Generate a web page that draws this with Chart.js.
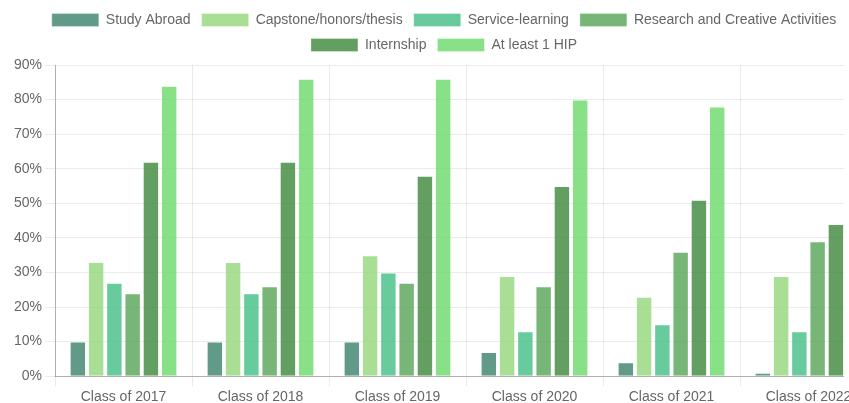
<!DOCTYPE html>
<html>
<head>
<meta charset="utf-8">
<script src="https://cdn.jsdelivr.net/npm/chart.js@4"></script>
<style>
  html, body { margin: 0; padding: 0; background: #fff; overflow: hidden; }
  .clip { width: 849px; height: 403px; overflow: hidden; }
  .wrap { width: 886px; height: 409px; }
</style>
</head>
<body>
<div class="clip"><div class="wrap"><canvas id="hipChart"></canvas></div></div>
<script>
"use strict";

const classes = ["Class of 2017", "Class of 2018", "Class of 2019", "Class of 2020", "Class of 2021", "Class of 2022"];
const studyAbroad = [10, 10, 10, 7, 4, 1];
const capstone = [33, 33, 35, 29, 23, 29];
const serviceLearning = [27, 24, 30, 13, 15, 13];
const research = [24, 26, 27, 26, 36, 39];
const internship = [62, 62, 58, 55, 51, 44];
const atLeastOne = [84, 86, 86, 80, 78, 78];
const yTicks = [0, 10, 20, 30, 40, 50, 60, 70, 80, 90];

const series = [
  { label: "Study Abroad", data: studyAbroad, color: "rgba(59, 129, 109, 0.8)" },
  { label: "Capstone/honors/thesis", data: capstone, color: "rgba(148, 214, 123, 0.8)" },
  { label: "Service-learning", data: serviceLearning, color: "rgba(65, 190, 133, 0.8)" },
  { label: "Research and Creative Activities", data: research, color: "rgba(86, 164, 86, 0.8)" },
  { label: "Internship", data: internship, color: "rgba(59, 135, 57, 0.8)" },
  { label: "At least 1 HIP", data: atLeastOne, color: "rgba(106, 218, 104, 0.8)" }
];

Chart.defaults.font.family = "'Liberation Sans', Arial, Helvetica, sans-serif";
Chart.defaults.font.size = 14;
Chart.defaults.color = "#666";

// a little extra room under the legend
const legendGap = {
  id: "legendGap",
  beforeInit: function (chart) {
    const fit = chart.legend.fit;
    chart.legend.fit = function () {
      fit.bind(chart.legend)();
      this.height += 3;
    };
  }
};

// the plot is cut off on the right, the axis labels are not
const plotCut = {
  id: "plotCut",
  afterDraw: function (chart) {
    const ctx = chart.ctx;
    const area = chart.chartArea;
    ctx.save();
    ctx.fillStyle = "#fff";
    ctx.fillRect(844, 0, chart.width - 844, area.bottom + 2);
    ctx.restore();
  }
};

new Chart(document.getElementById("hipChart"), {
  type: "bar",
  data: {
    labels: classes,
    datasets: series.map(function (s) {
      return {
        label: s.label,
        data: s.data,
        backgroundColor: s.color,
        borderColor: "rgba(255, 255, 255, 0.3)",
        borderWidth: 1,
        barPercentage: 0.9,
        categoryPercentage: 0.8
      };
    })
  },
  plugins: [legendGap, plotCut],
  options: {
    responsive: true,
    maintainAspectRatio: false,
    animation: false,
    layout: { padding: { left: 11, right: 9, top: 2, bottom: 0 } },
    plugins: {
      legend: {
        position: "top",
        labels: { boxWidth: 47, boxHeight: 13, padding: 11, font: { size: 14 }, color: "#666" }
      },
      title: { display: false },
      tooltip: { enabled: false }
    },
    scales: {
      x: {
        grid: { color: "rgba(0,0,0,0.08)", tickLength: 10 },
        border: { color: "rgba(0,0,0,0.25)" },
        ticks: { color: "#666", font: { size: 14 }, padding: 3 }
      },
      y: {
        min: 0,
        max: 90,
        afterBuildTicks: function (axis) {
          axis.ticks = yTicks.map(function (v) { return { value: v }; });
        },
        grid: { color: "rgba(0,0,0,0.08)", tickLength: 10 },
        border: { color: "rgba(0,0,0,0.25)" },
        ticks: {
          color: "#666",
          font: { size: 14 },
          padding: 3,
          callback: function (v) { return v + "%"; }
        }
      }
    }
  }
});
</script>
</body>
</html>
